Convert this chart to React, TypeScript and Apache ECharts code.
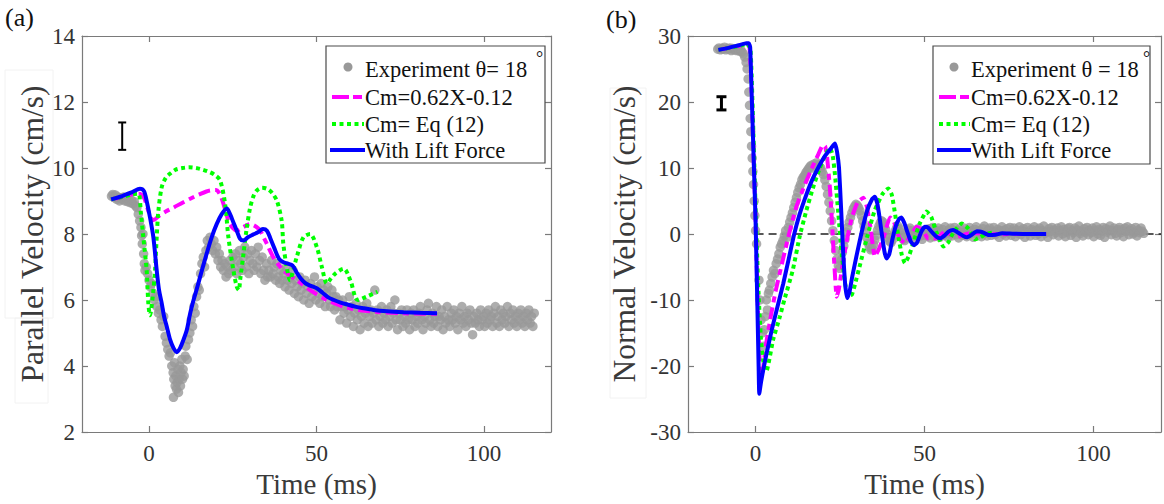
import React, { useEffect, useRef } from 'react';
import * as echarts from 'echarts';

// ---------- tick labels ----------
const timeTicks = [0, 50, 100];
const parallelTicks = [2, 4, 6, 8, 10, 12, 14];
const normalTicks = [-30, -20, -10, 0, 10, 20, 30];

// ---------- panel (a): parallel velocity ----------
const expParallel: number[][] = [
  [-11.2, 9.15], [-10.8, 9.2], [-10.4, 9.1], [-10, 9.18], [-9.6, 9.05], [-9.2, 9.12], [-8.8, 9.0], [-8.4, 9.1], [-8, 9.05], [-7.6, 9.12],
  [-7.2, 9.0], [-6.8, 9.08], [-6.4, 8.98], [-6, 9.05], [-5.6, 8.95], [-5.2, 9.02], [-4.8, 8.92], [-4.4, 8.98], [-4, 8.85], [-3.6, 8.8],
  [-3.2, 8.6], [-2.8, 8.4], [-2.4, 8.2], [-2.2, 7.95], [-2, 7.7], [-1.8, 8.0], [-1.6, 7.4], [-1.4, 7.1], [-1.2, 6.9], [-0.8, 7.0],
  [-0.4, 6.8], [0, 6.6], [0.4, 6.4], [0.8, 6.5], [1.2, 6.2], [1.6, 6.0], [2, 6.1], [2.4, 5.8], [2.8, 5.6], [3.2, 5.7],
  [3.6, 5.4], [4, 5.2], [4.4, 5.5], [4.8, 4.9], [5.2, 4.7], [5.6, 4.5], [6, 4.3], [6.4, 4.4], [6.8, 4.0], [7.2, 3.8],
  [7.3, 3.05], [7.4, 3.6], [7.6, 4.1], [7.8, 3.4], [8, 3.7], [8.2, 3.3], [8.4, 3.5], [8.6, 3.9], [8.8, 3.2], [9, 3.6],
  [9.2, 4.0], [9.4, 3.4], [9.6, 3.8], [9.8, 4.2], [10, 3.6], [10.2, 3.9], [10.5, 3.7], [10.8, 4.3], [11, 4.6], [11.4, 4.2],
  [11.8, 4.8], [12.2, 5.0], [12.6, 5.4], [13, 5.2], [13.4, 5.8], [13.8, 5.6], [14.2, 6.1], [14.6, 6.4], [15, 6.3], [15.4, 6.8],
  [15.8, 7.1], [16.2, 7.3], [16.6, 7.0], [17, 7.5], [17.4, 7.8], [17.8, 7.6], [18.2, 7.9], [18.6, 7.7], [19, 7.5], [19.4, 7.8],
  [19.8, 7.4], [20.2, 7.6], [20.6, 7.2], [21, 7.4], [21.4, 7.0], [21.8, 7.2], [22.2, 6.9], [22.6, 7.1], [23, 6.7], [23.4, 7.0],
  [23.8, 6.8], [24.2, 7.2], [24.6, 6.9], [25, 7.3], [25.4, 7.0], [25.8, 7.4], [26.2, 6.8], [26.6, 7.2], [27, 7.5], [27.4, 7.1],
  [27.8, 6.9], [28.2, 7.3], [28.6, 7.6], [29, 7.0], [29.4, 7.4], [29.8, 6.8], [30.2, 7.2], [30.6, 7.5], [31, 7.1], [31.4, 6.9],
  [31.8, 7.4], [32.2, 7.0], [32.6, 7.6], [33, 7.2], [33.4, 6.8], [33.8, 7.3], [34.2, 6.9], [34.6, 6.6], [35, 7.1], [35.4, 6.7],
  [35.8, 6.9], [36.2, 6.7], [36.6, 7.2], [37, 6.8], [37.4, 7.0], [37.8, 6.6], [38.2, 7.1], [38.6, 6.7], [39, 6.5], [39.4, 6.9],
  [39.8, 6.6], [40.2, 6.8], [40.6, 6.4], [41, 7.0], [41.4, 6.6], [41.8, 6.3], [42.2, 6.7], [42.6, 6.5], [43, 6.9], [43.4, 6.2],
  [43.8, 6.6], [44.2, 6.4], [44.6, 6.1], [45, 6.7], [45.4, 6.3], [45.8, 6.5], [46.2, 6.0], [46.6, 6.6], [47, 6.2], [47.4, 6.4],
  [47.8, 5.9], [48.2, 6.5], [48.6, 6.1], [49, 6.3], [49.4, 6.7], [49.8, 6.0], [50.2, 6.4], [50.6, 6.2], [51, 5.9], [51.4, 6.5],
  [51.8, 6.1], [52.2, 6.3], [52.6, 5.8], [53, 6.2], [53.4, 6.4], [53.8, 6.0], [54.2, 5.8], [54.6, 6.3], [55, 6.1], [55.4, 5.7],
  [55.8, 6.1], [56.2, 5.8], [56.6, 6.0], [57, 5.4], [57.4, 5.8], [57.8, 6.0], [58.2, 5.6], [58.6, 5.8], [59, 5.3], [59.4, 5.7],
  [59.8, 6.1], [60.2, 5.5], [60.6, 5.8], [61, 5.2], [61.4, 5.6], [61.8, 5.9], [62.2, 5.4], [62.6, 5.7], [63, 5.1], [63.4, 5.5],
  [63.8, 5.8], [64.2, 5.3], [64.6, 5.6], [65, 5.9], [65.4, 5.2], [65.8, 5.5], [66.2, 5.7], [66.6, 5.3], [67, 5.6], [67.4, 6.3],
  [67.8, 5.4], [68.2, 5.7], [68.6, 5.2], [69, 5.5], [69.4, 5.8], [69.8, 5.3], [70.2, 5.6], [70.6, 5.4], [71, 5.7], [71.4, 5.2],
  [71.8, 5.5], [72.2, 5.8], [72.6, 5.3], [73, 5.6], [73.4, 6.0], [73.8, 5.4], [74.2, 5.1], [74.6, 5.6], [75, 5.4], [75.4, 5.7],
  [75.8, 5.2], [76.2, 5.5], [76.6, 5.3], [77, 5.7], [77.4, 5.4], [77.8, 5.1], [78.2, 5.6], [78.6, 5.4], [79, 5.7], [79.4, 5.2],
  [79.8, 5.5], [80.2, 5.3], [80.6, 5.6], [81, 5.8], [81.4, 5.4], [81.8, 5.1], [82.2, 5.5], [82.6, 5.3], [83, 5.7], [83.4, 5.9],
  [83.8, 5.4], [84.2, 5.2], [84.6, 5.6], [85, 5.3], [85.4, 5.5], [85.8, 5.8], [86.2, 5.2], [86.6, 5.5], [87, 5.4], [87.4, 5.7],
  [87.8, 5.1], [88.2, 5.5], [88.6, 5.3], [89, 5.8], [89.4, 5.4], [89.8, 5.2], [90.2, 5.6], [90.6, 5.4], [91, 5.7], [91.4, 5.3],
  [91.8, 5.5], [92.2, 5.1], [92.6, 5.6], [93, 5.4], [93.4, 5.8], [93.8, 5.3], [94.2, 5.5], [94.6, 5.2], [95, 5.6], [95.4, 5.4],
  [95.8, 5.7], [96.2, 5.3], [96.6, 4.95], [97, 5.5], [97.4, 5.3], [97.8, 5.6], [98.2, 5.4], [98.6, 5.2], [99, 5.7], [99.4, 5.4],
  [99.8, 5.5], [100.2, 5.2], [100.6, 5.6], [101, 5.3], [101.4, 5.7], [101.8, 5.4], [102.2, 5.5], [102.6, 5.2], [103, 5.6], [103.4, 5.8],
  [103.8, 5.3], [104.2, 5.5], [104.6, 5.2], [105, 5.7], [105.4, 5.4], [105.8, 5.6], [106.2, 5.3], [106.6, 5.5], [107, 5.8], [107.4, 5.2],
  [107.8, 5.6], [108.2, 5.4], [108.6, 5.7], [109, 5.3], [109.4, 5.5], [109.8, 5.2], [110.2, 5.6], [110.6, 5.4], [111, 5.7], [111.4, 5.3],
  [111.8, 5.5], [112.2, 5.2], [112.6, 5.6], [113, 5.4], [113.4, 5.7], [113.8, 5.3], [114.2, 5.5], [114.6, 5.2], [115, 5.6],
];

const cmLinearParallel: number[][] = [
  [-11.3, 9.05], [-8, 9.12], [-5, 9.2], [-3, 9.22], [-1.5, 9.1], [-0.5, 8.8], [0.5, 8.5], [1.3, 8.42], [3, 8.55], [5, 8.68],
  [7.3, 8.8], [10, 8.95], [12.3, 9.07], [15, 9.2], [18.2, 9.32], [20, 9.33], [20.9, 9.25], [21.6, 9.1], [22.2, 8.92], [23, 8.65],
  [23.7, 8.4], [25, 8.18], [26.2, 8.1], [28, 8.2], [30.2, 8.3], [32, 8.22], [33.2, 8.1], [34.2, 7.9], [35.2, 7.7], [37.1, 7.3],
  [40.1, 6.9], [44.1, 6.6], [48.1, 6.3], [53.1, 6.0], [58.1, 5.8], [63, 5.69], [68, 5.64], [75, 5.6], [86, 5.58],
];

const cmEqParallel: number[][] = [
  [-11.3, 9.05], [-8, 9.12], [-5, 9.2], [-3.2, 9.22], [-2.4, 8.6], [-1.7, 7.9], [-0.7, 6.9], [-0.2, 5.9], [0.3, 5.54], [1, 6.0],
  [1.8, 6.9], [2.3, 7.9], [2.8, 8.7], [3.8, 9.42], [5, 9.7], [6.3, 9.83], [8, 9.95], [10, 10.0], [12, 10.02], [14, 10.0],
  [16, 9.95], [18, 9.88], [19.5, 9.8], [21.2, 9.63], [22.7, 8.92], [23.7, 7.9], [25.2, 6.9], [26.2, 6.4], [26.8, 6.3], [27.2, 6.6],
  [28.2, 7.4], [29.2, 8.2], [30.2, 8.8], [31.2, 9.15], [32.2, 9.32], [33.8, 9.4], [35.2, 9.37], [36.7, 9.25], [38.2, 9.0], [39.6, 8.4],
  [40.1, 7.7], [41.1, 7.0], [42.1, 6.6], [43, 6.9], [44.1, 7.3], [46.1, 7.9], [48.1, 8.0], [50.1, 7.6], [51.6, 7.0], [53.1, 6.5],
  [54.3, 6.65], [55.6, 6.8], [58.1, 6.95], [60.1, 6.6], [62.3, 6.0], [64.9, 6.1], [68.2, 6.25],
];

const liftParallel: number[][] = [
  [-11.3, 9.05], [-8, 9.15], [-5, 9.27], [-2.7, 9.37], [-1.5, 9.3], [-0.7, 9.0], [0.3, 8.5], [1.3, 7.9], [2.3, 6.9], [3, 6.3],
  [3.8, 5.9], [4.5, 5.5], [5.3, 5.2], [6.3, 4.8], [7.3, 4.55], [8.3, 4.42], [9.3, 4.55], [10.3, 4.8], [11.3, 5.1], [12.3, 5.6],
  [13.3, 6.0], [14.3, 6.35], [15.8, 6.9], [17.2, 7.4], [18.7, 7.9], [20.2, 8.3], [21.7, 8.6], [23.2, 8.77], [24.2, 8.6], [25.2, 8.35],
  [26.2, 8.1], [27.2, 7.85], [28.2, 7.8], [29.5, 7.9], [31, 7.98], [32.5, 8.05], [34, 8.15], [35.2, 8.1], [36.3, 7.85], [37.5, 7.55],
  [38.8, 7.25], [40, 7.15], [41.5, 7.1], [42.8, 7.05], [44, 6.85], [45.3, 6.65], [46.8, 6.5], [48.5, 6.42], [50.2, 6.35], [51.8, 6.22],
  [53.5, 6.08], [55.2, 6.0], [57, 5.93], [59, 5.87], [61.5, 5.8], [64, 5.75], [67, 5.7], [71, 5.66], [76, 5.63], [81, 5.61], [86, 5.6],
];

// error bar: [time, low, high]
const errParallel: number[][] = [[-8, 10.55, 11.38]];

// ---------- panel (b): normal velocity ----------
const expNormal: number[][] = [
  [-11.2, 28.0], [-10.8, 28.2], [-10.4, 27.9], [-10, 28.1], [-9.6, 28.0], [-9.2, 28.3], [-8.8, 27.9], [-8.4, 28.1], [-8, 28.0], [-7.6, 28.2],
  [-7.2, 27.8], [-6.8, 28.1], [-6.4, 27.9], [-6, 28.0], [-5.6, 27.8], [-5.2, 28.0], [-4.8, 27.7], [-4.4, 27.9], [-4, 27.6], [-3.6, 27.3],
  [-3.2, 26.8], [-2.8, 26.0], [-2.5, 25.0], [-2.2, 23.5], [-2, 21.5], [-1.8, 19.5], [-1.6, 17.5], [-1.4, 15.5], [-1.2, 13.3], [-1, 11.5],
  [-0.8, 9.5], [-0.6, 7.5], [-0.4, 5.0], [-0.2, 2.8], [0, 0.5], [0.3, -1.5], [1.0, -7], [1.3, -10], [1.6, -13], [2, -15],
  [2.3, -17], [2.6, -14.5], [2.9, -12.5], [3.2, -10], [3.5, -11.5], [3.8, -9], [4.1, -8.5], [4.5, -7.5], [4.9, -6.5], [5.3, -5.5],
  [5.7, -6], [6.1, -4.5], [6.5, -3.8], [6.9, -3], [7.3, -2], [7.7, -1.5], [8.1, -1], [8.5, -0.3], [8.9, 0.5], [9.3, -0.5],
  [9.7, 1], [10.1, 1.8], [10.5, 2.5], [10.9, 3.2], [11.3, 4], [11.7, 4.8], [12.1, 5.5], [12.5, 6.3], [12.9, 7], [13.3, 7.5],
  [13.7, 8.2], [14.1, 8.6], [14.5, 8.9], [14.9, 9.3], [15.3, 9.6], [15.7, 9.9], [16.1, 10.2], [16.5, 10.4], [16.9, 10.0], [17.3, 10.6],
  [17.7, 10.3], [18.1, 10.8], [18.5, 10.5], [18.9, 10.2], [19.3, 10.0], [19.7, 9.5], [20.1, 9.0], [20.5, 8.2], [20.9, 7.2], [21.3, 6.0],
  [21.7, 4.8], [22.1, 3.5], [22.5, 2.0], [22.9, 0.5], [23.3, -1.0], [23.7, -2.5], [24.1, -3.8], [24.5, -4.8], [24.9, -5.2], [25.3, -4.0],
  [25.7, -2.8], [26.1, -1.8], [26.5, -0.8], [26.9, 0.3], [27.3, 1.0], [27.7, 1.8], [28.1, 2.5], [28.5, 3.2], [28.9, 3.8], [29.3, 4.2],
  [29.7, 4.5], [30.1, 4.3], [30.5, 4.0], [30.9, 3.5], [31.3, 2.8], [31.7, 2.0], [32.1, 1.2], [32.5, 0.3], [32.9, -0.6], [33.3, -1.4],
  [33.7, -2.0], [34.1, -2.4], [34.5, -2.2], [34.9, -1.6], [35.3, -0.9], [35.7, -0.2], [36.1, 0.6], [36.5, 1.2], [36.9, 1.7], [37.3, 2.0],
  [37.7, 1.8], [38.1, 1.3], [38.5, 0.7], [38.9, 0.0], [39.3, -0.6], [39.7, -1.1], [40.1, -1.3], [40.5, -0.9], [40.9, -0.3], [41.3, 0.4],
  [41.7, 0.9], [42.1, 1.2], [42.5, 0.8], [42.9, 0.3], [43.3, -0.3], [43.7, -0.8], [44.1, -1.0], [44.5, -0.6], [44.9, 0.1], [45.3, 0.6],
  [45.7, 0.9], [46.1, 0.5], [46.5, -0.2], [46.9, -0.7], [47.3, -0.4], [47.7, 0.3], [48.1, 0.8], [48.5, 0.4], [48.9, -0.3], [49.3, -0.8],
  [49.7, -0.2], [50.1, 0.5],
  [50.5, 0.5], [50.9, -0.3], [51.3, 0.8], [51.7, -0.6], [52.1, 0.2], [52.5, 1.0], [52.9, -0.4], [53.3, 0.6], [53.7, -0.1], [54.1, 0.9],
  [54.5, -0.5], [54.9, 0.3], [55.3, 0.7], [55.7, -0.2], [56.1, 1.1], [56.5, 0.1], [56.9, -0.5], [57.3, 0.6], [57.7, 0.9], [58.1, -0.3],
  [58.5, 0.4], [58.9, 1.0], [59.3, -0.1], [59.7, 0.5], [60.1, -0.6], [60.5, 0.8], [60.9, 0.2], [61.3, -0.2], [61.7, 0.9], [62.1, 0.3],
  [62.5, -0.4], [62.9, 0.6], [63.3, 1.0], [63.7, 0.0], [64.1, 0.4], [64.5, -0.5], [64.9, 0.7], [65.3, 1.1], [65.7, -0.1], [66.1, 0.5],
  [66.5, 0.2], [66.9, -0.4], [67.3, 0.8], [67.7, 1.2], [68.1, 0.1], [68.5, -0.3], [68.9, 0.6], [69.3, 0.9], [69.7, -0.2], [70.1, 0.4],
  [70.5, 1.0], [70.9, -0.1], [71.3, 0.3], [71.7, 0.7], [72.1, -0.5], [72.5, 0.5], [72.9, 1.1], [73.3, 0.0], [73.7, 0.6], [74.1, -0.3],
  [74.5, 0.8], [74.9, 0.2], [75.3, 1.0], [75.7, -0.2], [76.1, 0.4], [76.5, 0.9], [76.9, -0.4], [77.3, 0.6], [77.7, 0.1], [78.1, 1.1],
  [78.5, -0.1], [78.9, 0.5], [79.3, 0.8], [79.7, -0.5], [80.1, 0.3], [80.5, 1.0], [80.9, 0.2], [81.3, -0.3], [81.7, 0.7], [82.1, 0.4],
  [82.5, 1.1], [82.9, -0.2], [83.3, 0.6], [83.7, 0.0], [84.1, 0.9], [84.5, -0.4], [84.9, 0.5], [85.3, 1.2], [85.7, 0.1], [86.1, 0.3],
  [86.5, -0.5], [86.9, 0.8], [87.3, 0.4], [87.7, 1.0], [88.1, -0.1], [88.5, 0.6], [88.9, 0.2], [89.3, 0.9], [89.7, -0.3], [90.1, 0.5],
  [90.5, 1.1], [90.9, 0.0], [91.3, 0.7], [91.7, -0.4], [92.1, 0.3], [92.5, 0.8], [92.9, 1.0], [93.3, -0.2], [93.7, 0.5], [94.1, 0.2],
  [94.5, 0.9], [94.9, -0.5], [95.3, 0.6], [95.7, 1.2], [96.1, 0.1], [96.5, 0.4], [96.9, -0.3], [97.3, 0.8], [97.7, 0.3], [98.1, 1.0],
  [98.5, -0.1], [98.9, 0.6], [99.3, 0.2], [99.7, 0.9], [100.1, -0.4], [100.5, 0.5], [100.9, 1.1], [101.3, 0.0], [101.7, 0.7], [102.1, -0.2],
  [102.5, 0.4], [102.9, 1.0], [103.3, -0.5], [103.7, 0.8], [104.1, 0.3], [104.5, 0.6], [104.9, 1.2], [105.3, -0.1], [105.7, 0.5], [106.1, 0.9],
  [106.5, 0.1], [106.9, -0.3], [107.3, 0.7], [107.7, 1.0], [108.1, 0.2], [108.5, 0.6], [108.9, -0.4], [109.3, 0.9], [109.7, 0.4], [110.1, 1.1],
  [110.5, -0.1], [110.9, 0.5], [111.3, 0.8], [111.7, 0.0], [112.1, 0.3], [112.5, 1.0], [112.9, -0.3], [113.3, 0.6], [113.7, 0.2], [114.1, 0.9],
  [114.5, 0.4], [114.9, 0.1],
];

const cmLinearNormal: number[][] = [
  [-11, 27.9], [-5, 28.5], [-2.5, 28.8], [-1.8, 28.3], [-1.2, 22], [-0.6, 12], [0, 2], [0.6, -10], [1.1, -18], [1.6, -21.5],
  [2.2, -20.5], [3, -17], [4.5, -12.5], [6, -8.5], [7.8, -4.5], [9.9, 0], [12, 4], [14.3, 7.1], [16.5, 9.8], [18.5, 12],
  [20, 13.5], [20.6, 13.3], [21.2, 11.5], [22, 7], [22.7, 1], [23.3, -4.5], [24, -9.5], [24.6, -8.5], [25.5, -5.5], [27, -1],
  [28.5, 2.5], [30.2, 4.8], [31.9, 5.5], [33, 4], [34, 1], [35.3, -3.4], [36.3, -2.5], [37.9, -0.5], [39.8, 2.5], [41, 1.8],
  [42.5, -0.5], [44.2, -1.4], [45.8, -0.3], [47.7, 1.1], [49.5, 0.5], [51.1, -0.7], [53.3, -0.7], [56, 0.3], [59.3, -0.5], [62.6, 0.05],
  [66, 0.1], [70, -0.05], [76, 0], [86, 0],
];

const cmEqNormal: number[][] = [
  [-11, 27.9], [-5, 28.5], [-2.5, 28.8], [-1.5, 28], [-0.8, 18], [0, 4], [0.8, -8], [1.6, -16], [2.5, -20], [3.2, -20.8],
  [5.2, -16], [7.2, -12.5], [8.5, -10], [11, -5.5], [13, -0.5], [15, 3.5], [17, 7], [19, 10], [21, 12.3], [22, 13],
  [22.8, 12], [23.5, 9], [24.5, 3], [25.5, -3], [26.5, -7.5], [27.5, -9.3], [28.5, -9.2], [29.5, -7.5], [31, -4.5], [33, -0.5],
  [35.2, 3.5], [37.5, 6], [39.3, 6.9], [40.3, 6], [41.3, 3], [42.3, -0.5], [43.3, -3.2], [44.2, -4.4], [45.5, -3.2], [47, -0.8],
  [48.5, 1.5], [50.6, 3.4], [52, 2.6], [53.5, 0.3], [55.6, -1.9], [57, -1.3], [58.5, 0.2], [61, 1.6], [63, 0.8], [65, -0.8],
  [66.5, -0.5], [68.1, 0], [70, 0.2],
];

const liftNormal: number[][] = [
  [-11, 27.9], [-8, 28.2], [-5, 28.6], [-2.7, 28.9], [-2, 28.9], [-1.6, 28.3], [-1.2, 22], [-0.6, 12], [0, 2], [0.5, -10],
  [0.9, -20], [1.1, -24.2], [1.6, -22.5], [2.3, -20.5], [3.3, -18], [4.8, -14.5], [6.5, -11], [8.2, -7.5], [9.8, -3.8], [11.3, -0.3],
  [12.8, 2.6], [14.5, 5.2], [16.5, 7.9], [18.5, 10.0], [20.5, 11.8], [22.5, 13.1], [23.5, 13.7], [24.1, 12.5], [24.7, 10], [25.3, 4],
  [25.9, -2.5], [26.5, -7.5], [27.1, -9.7], [27.8, -8.8], [28.6, -6.5], [30, -3], [31.5, 0.5], [33, 3.5], [34.5, 5.3], [35.3, 5.65],
  [36, 4.7], [36.7, 2.5], [37.5, -0.5], [38.2, -2.8], [38.8, -3.7], [39.6, -3.0], [40.5, -0.8], [41.5, 1.2], [42.5, 2.3], [43.2, 2.5],
  [44, 1.7], [45, 0.2], [46, -1.2], [46.9, -1.7], [47.8, -1.3], [49, 0.3], [50.1, 1.1], [51, 1.0], [52, 0.4], [53.5, -0.4],
  [54.6, -0.65], [56, -0.2], [57.2, 0.4], [58.5, 0.6], [60, 0.2], [61.5, -0.3], [62.5, -0.5], [64, -0.1], [65.5, 0.4], [67, 0.3],
  [69, -0.15], [71, -0.1], [73, 0.1], [76, 0.05], [80, 0], [86, 0],
];

const zeroNormal: number[][] = [[0, 0], [120, 0]];
const errNormal: number[][] = [[-10.1, 18.8, 20.8]];

// ---------- styling ----------
const FONT = 'Liberation Serif';
const AXIS_GRAY = '#7a7a7a';
const TEXT = '#333333';
const GRAY_DOT = '#999999';
const MAGENTA = '#ff00ff';
const GREEN = '#00ff00';
const BLUE = '#0000ff';

function errRenderer(capHalf: number, width: number) {
  return (params: any, api: any) => {
    const t = api.value(0);
    const lo = api.coord([t, api.value(1)]);
    const hi = api.coord([t, api.value(2)]);
    const st = { stroke: '#000', lineWidth: width };
    return {
      type: 'group',
      children: [
        { type: 'line', shape: { x1: lo[0], y1: lo[1], x2: hi[0], y2: hi[1] }, style: st },
        { type: 'line', shape: { x1: lo[0] - capHalf, y1: lo[1], x2: lo[0] + capHalf, y2: lo[1] }, style: st },
        { type: 'line', shape: { x1: hi[0] - capHalf, y1: hi[1], x2: hi[0] + capHalf, y2: hi[1] }, style: st },
      ],
    };
  };
}

const labelStyle = { fontFamily: FONT, fontSize: 23, color: TEXT };

function xAxes(gridIndex: number) {
  const base = {
    gridIndex,
    type: 'value',
    min: -20,
    max: 120,
    splitLine: { show: false },
    axisLine: { show: true, onZero: false, lineStyle: { color: AXIS_GRAY, width: 1.2 } },
    axisTick: { show: true, inside: true, length: 6, customValues: timeTicks, lineStyle: { color: AXIS_GRAY, width: 1.2 } },
  };
  return [
    {
      ...base,
      position: 'bottom',
      name: 'Time (ms)',
      nameLocation: 'middle',
      nameGap: 34,
      nameTextStyle: { fontFamily: FONT, fontSize: 29, color: '#3a3a3a' },
      axisLabel: { ...labelStyle, customValues: timeTicks, margin: 10 },
    },
    { ...base, position: 'top', axisLabel: { show: false } },
  ];
}

function yAxes(gridIndex: number, min: number, max: number, ticks: number[], name: string, nameGap: number) {
  const base = {
    gridIndex,
    type: 'value',
    min,
    max,
    splitLine: { show: false },
    axisLine: { show: true, onZero: false, lineStyle: { color: AXIS_GRAY, width: 1.2 } },
    axisTick: { show: true, inside: true, length: 6, customValues: ticks, lineStyle: { color: AXIS_GRAY, width: 1.2 } },
  };
  return [
    {
      ...base,
      position: 'left',
      name,
      nameLocation: 'middle',
      nameGap,
      nameTextStyle: { fontFamily: FONT, fontSize: 31.5, color: '#3a3a3a' },
      axisLabel: { ...labelStyle, customValues: ticks, margin: 7 },
    },
    { ...base, position: 'right', axisLabel: { show: false } },
  ];
}

function txt(text: string, x: number, y: number, size: number) {
  return {
    type: 'text',
    z: 101,
    style: {
      text,
      x,
      y,
      fill: '#111',
      fontFamily: FONT,
      fontSize: size,
      textVerticalAlign: 'middle',
      verticalAlign: 'middle',
    },
  };
}

function legendGraphics(
  box: { x: number; y: number; w: number; h: number },
  lineX1: number,
  lineX2: number,
  dotX: number,
  textX: number,
  rows: number[],
  firstLabel: string,
  degreeX: number,
) {
  return [
    {
      type: 'rect',
      z: 100,
      shape: { x: box.x, y: box.y, width: box.w, height: box.h },
      style: { fill: '#fff', stroke: '#4a4a4a', lineWidth: 1.2 },
    },
    { type: 'circle', z: 101, shape: { cx: dotX, cy: rows[0] - 2, r: 4.5 }, style: { fill: GRAY_DOT } },
    txt(firstLabel, textX, rows[0], 22.5),
    txt('°', degreeX, box.y + 12, 18),
    {
      type: 'line',
      z: 101,
      shape: { x1: lineX1, y1: rows[1], x2: lineX2, y2: rows[1] },
      style: { stroke: MAGENTA, lineWidth: 4, lineDash: [17, 4, 9, 4] },
    },
    txt('Cm=0.62X-0.12', textX, rows[1], 22.5),
    {
      type: 'line',
      z: 101,
      shape: { x1: lineX1, y1: rows[2], x2: lineX2, y2: rows[2] },
      style: { stroke: GREEN, lineWidth: 4, lineDash: [4, 3.5] },
    },
    txt('Cm= Eq (12)', textX, rows[2], 22.5),
    {
      type: 'line',
      z: 101,
      shape: { x1: lineX1 - 2, y1: rows[3], x2: lineX2 + 1, y2: rows[3] },
      style: { stroke: BLUE, lineWidth: 4 },
    },
    txt('With Lift Force', textX, rows[3], 22.5),
  ];
}

export default function App() {
  const ref = useRef<HTMLDivElement>(null);

  useEffect(() => {
    if (!ref.current) return;
    const chart = echarts.init(ref.current, null, { renderer: 'svg' });

    const lineSeries = (data: number[][], xi: number, color: string, type: any, smooth: number) => ({
      type: 'line',
      xAxisIndex: xi,
      yAxisIndex: xi,
      data,
      symbol: 'none',
      showSymbol: false,
      smooth,
      lineStyle: { color, width: 4, type, cap: 'butt' },
      z: 3,
    });

    const option: any = {
      animation: false,
      backgroundColor: '#ffffff',
      textStyle: { fontFamily: FONT },
      grid: [
        { left: 82, top: 36, width: 469, height: 396, containLabel: false, outerBoundsMode: 'none' },
        { left: 688, top: 36, width: 473, height: 396, containLabel: false, outerBoundsMode: 'none' },
      ],
      xAxis: [...xAxes(0), ...xAxes(1)],
      yAxis: [
        ...yAxes(0, 2, 14, parallelTicks, 'Parallel Velocity (cm/s)', 31),
        ...yAxes(1, -30, 30, normalTicks, 'Normal Velocity (cm/s)', 48),
      ],
      series: [
        {
          type: 'scatter',
          xAxisIndex: 0,
          yAxisIndex: 0,
          data: expParallel,
          symbolSize: 9.5,
          itemStyle: { color: GRAY_DOT },
          z: 2,
        },
        lineSeries(cmLinearParallel, 0, MAGENTA, [12, 5, 6, 5], 0.3),
        lineSeries(cmEqParallel, 0, GREEN, [4, 3.5], 0.3),
        lineSeries(liftParallel, 0, BLUE, 'solid', 0.3),
        {
          type: 'custom',
          xAxisIndex: 0,
          yAxisIndex: 0,
          data: errParallel,
          renderItem: errRenderer(4, 2),
          z: 5,
        },
        {
          type: 'scatter',
          xAxisIndex: 2,
          yAxisIndex: 2,
          data: expNormal,
          symbolSize: 9.5,
          itemStyle: { color: GRAY_DOT },
          z: 2,
        },
        {
          type: 'line',
          xAxisIndex: 2,
          yAxisIndex: 2,
          data: zeroNormal,
          symbol: 'none',
          lineStyle: { color: '#222', width: 1.3, type: [8, 5] },
          z: 2,
        },
        lineSeries(cmLinearNormal, 2, MAGENTA, [12, 5, 6, 5], 0.15),
        lineSeries(cmEqNormal, 2, GREEN, [4, 3.5], 0.15),
        lineSeries(liftNormal, 2, BLUE, 'solid', 0.15),
        {
          type: 'custom',
          xAxisIndex: 2,
          yAxisIndex: 2,
          data: errNormal,
          renderItem: errRenderer(5, 3),
          z: 5,
        },
      ],
      graphic: [
        { type: 'rect', z: 0, shape: { x: 5, y: 70, width: 48, height: 248 }, style: { fill: 'none', stroke: '#f2f2f2', lineWidth: 1 } },
        { type: 'rect', z: 0, shape: { x: 15, y: 318, width: 33, height: 85 }, style: { fill: 'none', stroke: '#f2f2f2', lineWidth: 1 } },
        { type: 'rect', z: 0, shape: { x: 610, y: 88, width: 36, height: 310 }, style: { fill: 'none', stroke: '#f2f2f2', lineWidth: 1 } },
        txt('(a)', 5, 17, 26),
        txt('(b)', 606, 19, 26),
        ...legendGraphics({ x: 326, y: 46, w: 219, h: 117 }, 332, 364, 348, 365, [69, 97, 124, 150], 'Experiment θ= 18', 536),
        ...legendGraphics({ x: 933, y: 46, w: 217, h: 118 }, 939, 970, 954, 971, [69, 97, 124, 150], 'Experiment θ = 18', 1143),
      ],
    };

    chart.setOption(option);
    return () => chart.dispose();
  }, []);

  return (
    <div
      ref={ref}
      style={{ position: 'absolute', left: 0, top: 0, width: 1164, height: 504, background: '#fff' }}
    />
  );
}
